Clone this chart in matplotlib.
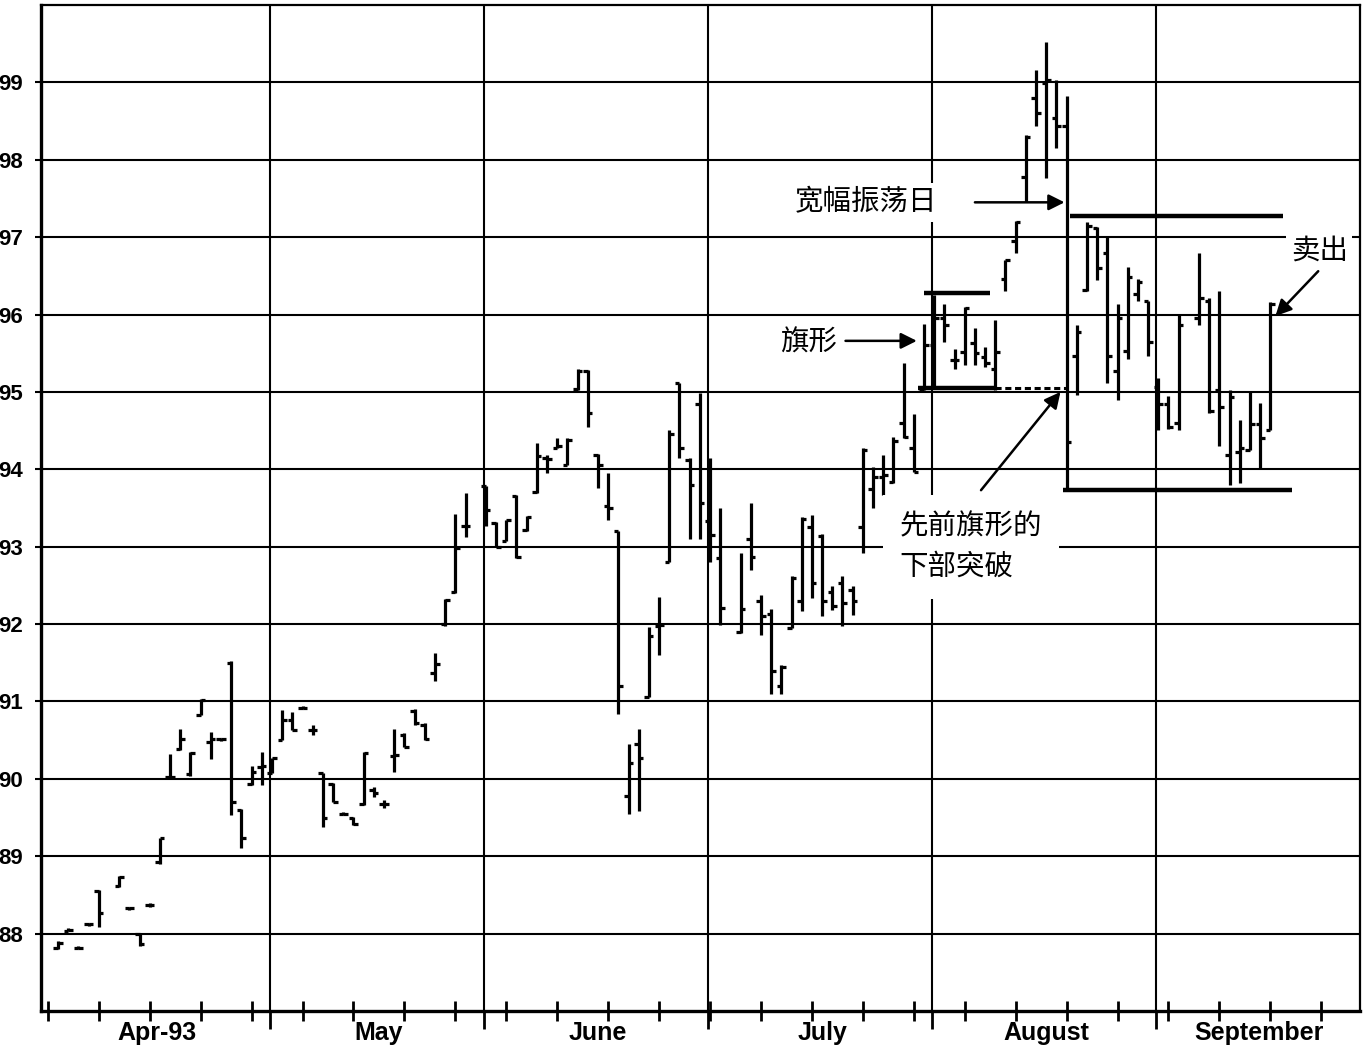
import matplotlib
matplotlib.use("Agg")
import matplotlib.pyplot as plt

# trading-day index and OHLC values (Apr-Sep 1993)
days = [0, 1, 2, 3, 4, 6, 7, 8, 9, 10, 11, 12, 13, 14, 15, 16, 17, 18, 19, 20, 21,
        22, 23, 24, 25, 26, 27, 28, 29, 30, 31, 32, 33, 34, 35, 36, 37, 38, 39, 40,
        42, 43, 44, 45, 46, 47, 48, 49, 50, 51, 52, 53, 54, 55, 56, 57, 58, 59, 60,
        61, 62, 63, 64, 65, 67, 68, 69, 70, 71, 72, 73, 74, 75, 76, 77, 78, 79, 80,
        81, 82, 83, 84, 85, 86, 87, 88, 89, 90, 91, 92, 93, 94, 95, 96, 97, 98, 99,
        100, 101, 102, 103, 104, 105, 106, 107, 108, 109, 110, 112, 113, 114, 115,
        116, 117, 118, 119]
opens = [87.82, 88.04, 87.82, 88.12, 88.55, 88.61, 88.33, 88.00, 88.37, 88.93, 90.02,
         90.39, 90.06, 90.83, 90.47, 90.51, 91.50, 89.60, 89.93, 90.15, 90.07,
         90.50, 90.76, 90.92, 90.63, 90.07, 89.93, 89.55, 89.50, 89.67, 89.85, 89.68,
         90.29, 90.57, 90.88, 90.70, 91.37, 92.00, 92.42, 93.27,
         93.78, 93.31, 93.07, 93.66, 93.22, 93.71, 94.15, 94.28, 94.06, 95.04, 95.27,
         94.19, 93.53, 93.20, 89.78, 90.45, 91.06, 91.97, 92.80, 95.11, 94.12, 94.84,
         93.33, 92.86, 91.90, 93.10, 92.30, 92.13, 91.20, 91.95, 92.30, 93.26, 93.14,
         92.42, 92.53, 92.44, 93.26, 93.75, 93.90, 93.84, 94.60, 94.27,
         95.04, 95.60, 95.95, 95.41, 95.52, 95.63, 95.45, 95.30, 96.46, 96.95, 97.78,
         98.80, 98.99, 98.54, 98.43, 95.46, 96.32, 97.12, 96.80, 95.27, 95.53, 96.26,
         96.17, 95.07, 94.85, 94.60, 95.96, 96.18, 95.03, 94.19, 94.23, 94.25, 94.58,
         94.51]
highs = [87.90, 88.07, 87.84, 88.14, 88.56, 88.74, 88.35, 88.01, 88.39, 89.24, 90.32,
         90.65, 90.35, 91.03, 90.60, 90.53, 91.52, 89.61, 90.17, 90.35, 90.27,
         90.89, 90.87, 90.94, 90.70, 90.08, 89.94, 89.57, 89.51, 90.35, 89.90, 89.73,
         90.65, 90.59, 90.90, 90.72, 91.63, 92.32, 93.42, 93.70,
         93.79, 93.32, 93.35, 93.67, 93.40, 94.34, 94.19, 94.40, 94.40, 95.30, 95.28,
         94.20, 93.95, 93.20, 90.45, 90.65, 91.96, 92.35, 94.51, 95.12, 94.14, 94.99,
         94.15, 93.50, 92.92, 93.56, 92.38, 92.20, 91.47, 92.62, 93.38, 93.41, 93.17,
         92.49, 92.62, 92.49, 94.27, 94.03, 94.18, 94.42, 95.37, 94.72,
         95.88, 96.25, 96.14, 95.56, 96.10, 95.82, 95.58, 95.93, 96.70, 97.21, 98.32,
         99.16, 99.52, 99.03, 98.83, 95.87, 97.20, 97.13, 97.02, 96.13, 96.61, 96.46,
         96.18, 95.18, 94.95, 96.00, 96.80, 96.22, 96.31, 95.03, 94.64, 95.00, 94.86,
         96.16]
lows = [87.80, 88.03, 87.80, 88.10, 88.09, 88.60, 88.31, 87.84, 88.35, 88.90, 90.01,
        90.37, 90.04, 90.82, 90.26, 90.49, 89.53, 89.10, 89.92, 89.92, 90.07,
        90.50, 90.63, 90.90, 90.57, 89.38, 89.70, 89.53, 89.40, 89.66, 89.77, 89.62,
        90.09, 90.41, 90.70, 90.50, 91.26, 91.97, 92.40, 93.12,
        93.27, 93.00, 93.07, 92.85, 93.20, 93.70, 93.95, 94.27, 94.05, 95.03, 94.55,
        93.76, 93.35, 90.84, 89.55, 89.59, 91.06, 91.60, 92.80, 94.14, 93.10, 93.10,
        92.80, 91.99, 91.88, 92.70, 91.86, 91.09, 91.09, 91.95, 92.17, 92.34, 92.10,
        92.18, 91.97, 92.12, 92.92, 93.50, 93.67, 93.82, 94.40, 93.96,
        95.02, 95.04, 95.65, 95.30, 95.35, 95.35, 95.32, 95.02, 96.31, 96.80, 97.45,
        98.43, 97.76, 98.15, 93.73, 94.96, 96.31, 96.44, 95.12, 94.90, 95.42, 96.18,
        95.46, 94.51, 94.52, 94.51, 95.87, 94.73, 94.30, 93.80, 93.82, 94.25, 94.01,
        94.51]
closes = [87.88, 88.05, 87.82, 88.12, 88.26, 88.73, 88.33, 87.86, 88.37, 89.23, 90.03,
          90.52, 90.34, 91.02, 90.51, 90.51, 89.70, 89.23, 90.09, 90.17, 90.27,
          90.76, 90.63, 90.92, 90.63, 89.49, 89.70, 89.55, 89.42, 90.34, 89.82, 89.68,
          90.31, 90.41, 90.72, 90.52, 91.48, 92.31, 92.98, 93.27,
          93.47, 93.00, 93.35, 92.87, 93.39, 94.17, 94.13, 94.30, 94.38, 95.27, 94.73,
          94.05, 93.50, 91.20, 90.20, 90.27, 91.84, 91.99, 94.46, 94.28, 93.80, 93.56,
          93.15, 92.21, 92.20, 92.87, 92.10, 91.40, 91.44, 92.60, 93.36, 92.53, 92.30,
          92.23, 92.27, 92.30, 94.25, 93.90, 93.92, 94.36, 94.42, 93.96,
          95.60, 95.95, 95.86, 95.41, 96.08, 95.50, 95.37, 95.52, 96.70, 97.20, 98.30,
          98.60, 99.03, 98.43, 94.35, 95.77, 97.15, 96.60, 95.46, 95.96, 96.48, 96.42,
          95.64, 94.84, 94.55, 95.87, 96.22, 94.75, 94.80, 94.94, 94.28, 94.58, 94.40,
          96.14]

price_ticks = list(range(88, 100))
month_starts = [21, 42, 64, 86, 108]
week_ticks = list(range(-1, 125, 5))
month_labels = ["Apr-93", "May", "June", "July", "August", "September"]

# drawn levels: (start day, end day, price)
flag_top = (85, 91.5, 96.28)
flag_bottom = (84.4, 92.0, 95.05)
flag_break = (92.0, 99.0, 95.05)
resistance = (99.3, 120.2, 97.27)
support = (98.6, 121.1, 93.73)

fig = plt.figure(figsize=(13.67, 10.49), dpi=100)
ax = fig.add_axes([41 / 1367, 1 - 1011 / 1049, 1319 / 1367, 1006 / 1049])
ax.set_xlim(-1.67, 127.8)
ax.set_ylim(87, 100)

# grid
for p in price_ticks:
    ax.axhline(p, color="black", lw=1.5, zorder=1)
for m in month_starts:
    ax.axvline(m - 0.2, color="black", lw=1.5, zorder=1)

# OHLC bars
tk = 0.45
ax.vlines(days, lows, highs, color="black", lw=2.3, zorder=4)
ax.hlines(opens, [d - tk for d in days], days, color="black", lw=2.3, zorder=4)
ax.hlines(closes, days, [d + tk for d in days], color="black", lw=2.3, zorder=4)

# flag and range lines
for x0, x1, y in [flag_top, flag_bottom, resistance, support]:
    ax.hlines(y, x0, x1, color="black", lw=3.2, zorder=5)
ax.hlines(flag_break[2], flag_break[0], flag_break[1], color="black", lw=2.2,
          linestyles=(0, (2.0, 1.2)), zorder=5)

cjk = ["Noto Sans CJK SC", "DejaVu Sans"]
box = dict(facecolor="white", edgecolor="none", pad=3)
arrow = dict(arrowstyle="-|>", color="black", lw=1.8, mutation_scale=24,
             shrinkA=0, shrinkB=0)

ax.text(79.3, 97.45, "宽幅振荡日", family=cjk, fontsize=20.5, ha="center",
        va="center", bbox=box, zorder=6)
ax.annotate("", xy=(98.8, 97.45), xytext=(90.0, 97.45), arrowprops=arrow, zorder=6)

ax.text(73.7, 95.64, "旗形", family=cjk, fontsize=20.5, ha="center", va="center",
        bbox=box, zorder=6)
ax.annotate("", xy=(84.3, 95.66), xytext=(77.3, 95.66), arrowprops=arrow, zorder=6)

ax.text(82.6, 93.0, "先前旗形的\n下部突破", family=cjk, fontsize=20.5, ha="left",
        va="center", linespacing=1.45,
        bbox=dict(facecolor="white", edgecolor="none", pad=12), zorder=6)
ax.annotate("", xy=(98.4, 95.0), xytext=(90.6, 93.73), arrowprops=arrow, zorder=6)

ax.text(123.8, 96.83, "卖出", family=cjk, fontsize=20.5, ha="center", va="center",
        bbox=box, zorder=6)
ax.annotate("", xy=(119.5, 95.98), xytext=(123.7, 96.56), arrowprops=arrow, zorder=6)

# axes styling
for side in ["left", "bottom"]:
    ax.spines[side].set_linewidth(2.4)
for side in ["top", "right"]:
    ax.spines[side].set_linewidth(1.6)

ax.set_yticks(price_ticks)
ax.set_yticklabels([str(p) for p in price_ticks], fontsize=16, fontweight="bold",
                   family="Liberation Sans")
ax.tick_params(axis="y", length=4, width=1.5, pad=9)

ax.set_xticks([m - 0.2 for m in month_starts])
ax.set_xticklabels([])
ax.tick_params(axis="x", which="major", direction="out", length=13, width=2)
ax.set_xticks(week_ticks, minor=True)
ax.tick_params(axis="x", which="minor", direction="inout", length=14, width=2)

bounds = [-1.67] + month_starts + [127.8]
for i, lab in enumerate(month_labels):
    mid = (bounds[i] + bounds[i + 1]) / 2
    ax.text(mid, -0.022, lab, transform=ax.get_xaxis_transform(), ha="center",
            va="center", fontsize=18, fontweight="bold", family="Liberation Sans")

fig.savefig("out.png", dpi=100)
